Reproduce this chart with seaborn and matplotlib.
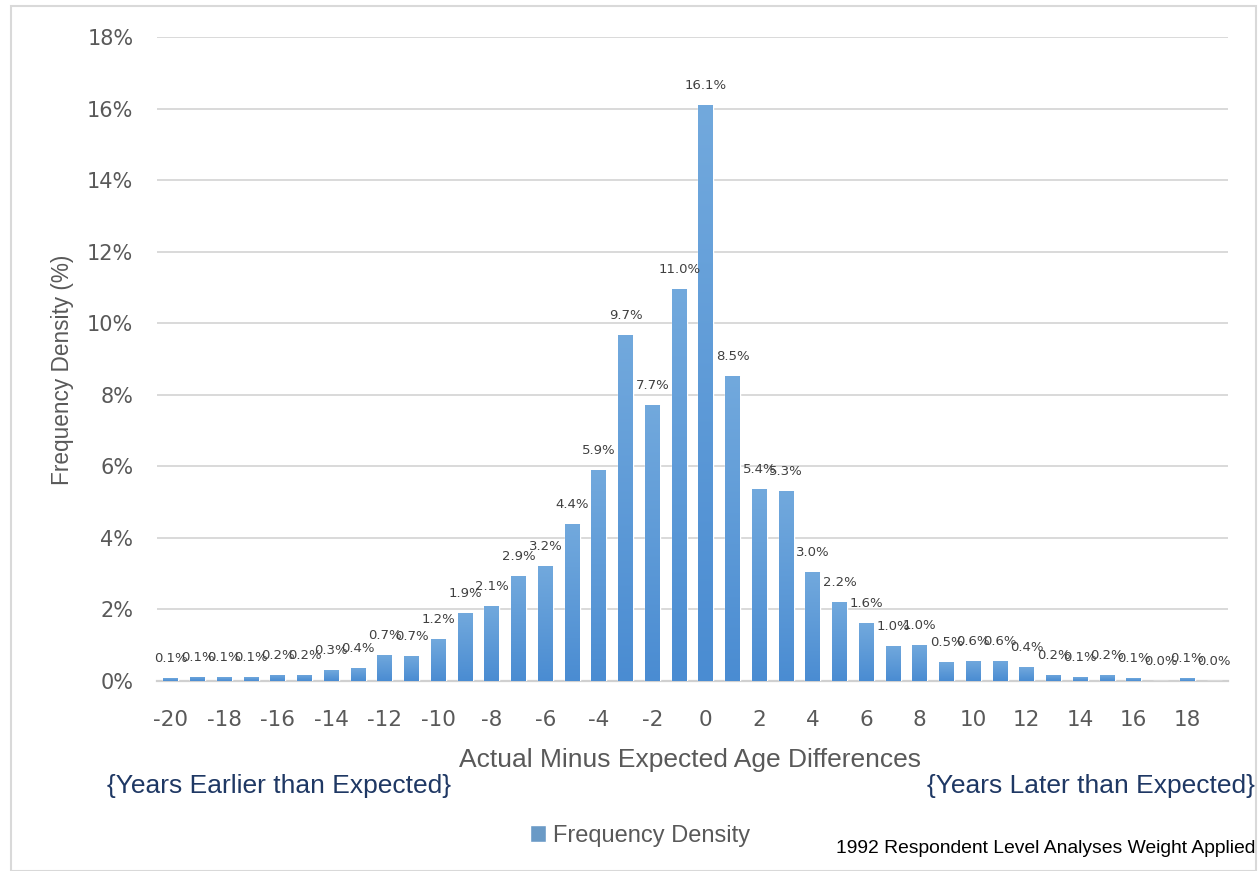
import numpy as np
import pandas as pd
import matplotlib
matplotlib.use("Agg")
import matplotlib.pyplot as plt
from matplotlib.patches import Rectangle
from matplotlib.colors import LinearSegmentedColormap
import seaborn as sns

# Actual minus expected age difference (years) and share of respondents (%)
diffs = list(range(-20, 20))
density = [0.08, 0.12, 0.10, 0.10, 0.17, 0.18, 0.30, 0.37, 0.73, 0.70,
           1.17, 1.90, 2.10, 2.94, 3.22, 4.38, 5.90, 9.66, 7.72, 10.96,
           16.10, 8.52, 5.36, 5.32, 3.04, 2.22, 1.62, 0.98, 1.02, 0.53,
           0.57, 0.56, 0.39, 0.17, 0.11, 0.16, 0.08, 0.00, 0.08, 0.01]
xtick_vals = list(range(-20, 20, 2))
ytick_vals = list(range(0, 20, 2))

df = pd.DataFrame({"diff": diffs, "density": density})

sns.set_theme(style="white")
narrow = ["Liberation Sans Narrow", "Liberation Sans", "DejaVu Sans"]
plt.rcParams["font.family"] = ["DejaVu Sans"]

fig = plt.figure(figsize=(12.59, 8.71), dpi=100)
ax = fig.add_axes([157 / 1259, 1 - 681 / 871, (1228 - 157) / 1259, (681 - 37) / 871])

sns.barplot(data=df, x="diff", y="density", native_scale=True, width=0.56,
            color="#5B9BD5", label="Frequency Density", ax=ax, zorder=3)

# vertical gradient fill on every bar
cmap = LinearSegmentedColormap.from_list("bar", ["#4A8CD2", "#72A9DD"])
grad = np.linspace(0, 1, 256).reshape(-1, 1)
for p in ax.patches:
    x0, h, w = p.get_x(), p.get_height(), p.get_width()
    if h <= 0:
        continue
    # soft shadow behind the bar
    ax.add_patch(Rectangle((x0 + 0.04, -0.02), w, h, facecolor="#000000",
                           alpha=0.10, edgecolor="none", zorder=2.5))
    im = ax.imshow(grad, cmap=cmap, extent=[x0, x0 + w, 0, h], origin="lower",
                   aspect="auto", zorder=3.1, interpolation="bicubic")
    im.set_clip_path(p)

ax.set_xlim(-20.52, 19.52)
ax.set_ylim(0, 18)

# value labels above bars
for xv, yv in zip(diffs, density):
    ax.annotate(f"{yv:.1f}%", (xv, yv), xytext=(0, 14), textcoords="offset points",
                ha="center", va="center", fontsize=9.5, color="#404040", zorder=5)

ax.set_yticks(ytick_vals)
ax.set_yticklabels([f"{v}%" for v in ytick_vals])
ax.set_xticks(xtick_vals)
ax.set_xticklabels([str(v) for v in xtick_vals])
ax.tick_params(axis="y", labelsize=15, labelcolor="#595959", length=0, pad=17)
ax.tick_params(axis="x", labelsize=15.5, labelcolor="#595959", length=0, pad=21)

ax.grid(axis="y", color="#D9D9D9", linewidth=1.4, zorder=0)
ax.set_axisbelow(True)
for side in ["top", "right", "left"]:
    ax.spines[side].set_visible(False)
ax.spines["bottom"].set_color("#D0D0D0")
ax.spines["bottom"].set_linewidth(1.6)

ax.set_xlabel("Actual Minus Expected Age Differences", fontsize=19, color="#595959",
              family=narrow)
ax.xaxis.set_label_coords(0.4977, -0.1227)
ax.xaxis.label.set_va("center")
ax.set_ylabel("Frequency Density (%)", fontsize=16.3, color="#595959", family=narrow)
ax.yaxis.set_label_coords(-0.0878, 0.483)
ax.yaxis.label.set_va("center")

fig.text(107 / 1259, 1 - 786 / 871, "{Years Earlier than Expected}", ha="left",
         va="center", fontsize=19, color="#1F3864", family=narrow)
fig.text(1255 / 1259, 1 - 786 / 871, "{Years Later than Expected}", ha="right",
         va="center", fontsize=19, color="#1F3864", family=narrow)
fig.text(1255 / 1259, 1 - 848 / 871, "1992 Respondent Level Analyses Weight Applied",
         ha="right", va="center", fontsize=13.9, color="#000000", family=narrow)

leg = ax.legend(loc="center", bbox_to_anchor=(640 / 1259, 1 - 836 / 871),
                bbox_transform=fig.transFigure, frameon=False, handlelength=0.7,
                handleheight=0.7, handletextpad=0.3,
                prop={"family": narrow, "size": 17})
for t in leg.get_texts():
    t.set_color("#595959")

# chart border
fig.patches.append(Rectangle((11 / 1259, 0), (1256 - 11) / 1259, 1 - 6 / 871,
                             transform=fig.transFigure, fill=False,
                             edgecolor="#D9D9D9", linewidth=1.5))

fig.savefig("out.png", dpi=100, facecolor="white")
